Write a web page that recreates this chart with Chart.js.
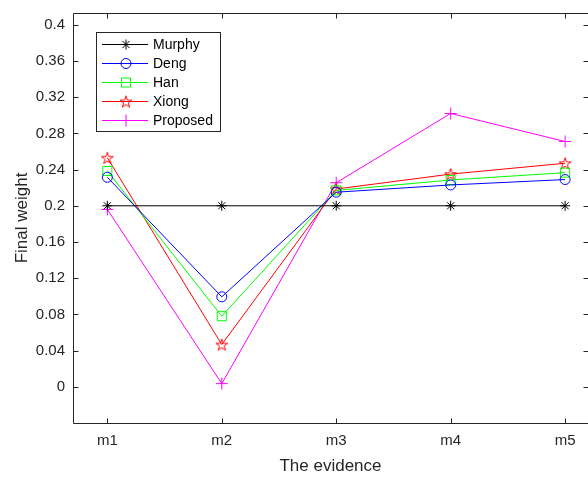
<!DOCTYPE html>
<html>
<head>
<meta charset="utf-8">
<script src="https://cdn.jsdelivr.net/npm/chart.js@4/dist/chart.umd.min.js"></script>
<style>
html,body{margin:0;padding:0;background:#fff;overflow:hidden;}
#wrap{width:588px;height:477px;position:relative;}
</style>
</head>
<body>
<div id="wrap"><canvas id="c" width="588" height="477"></canvas></div>
<script>
const categories = ["m1", "m2", "m3", "m4", "m5"];
const yTicks = [0, 0.04, 0.08, 0.12, 0.16, 0.2, 0.24, 0.28, 0.32, 0.36, 0.4];
const seriesNames = ["Murphy", "Deng", "Han", "Xiong", "Proposed"];
const murphy   = [0.2, 0.2, 0.2, 0.2, 0.2];
const deng     = [0.2315, 0.0994, 0.2150, 0.2230, 0.2290];
const han      = [0.2385, 0.0780, 0.2170, 0.2285, 0.2366];
const xiong    = [0.2530, 0.0467, 0.2185, 0.2350, 0.2470];
const proposed = [0.1960, 0.0035, 0.2255, 0.3020, 0.2710];

const TXT = '#262626';
const FONT = '"Liberation Sans", Arial, Helvetica, sans-serif';

function pentagram(color, size) {
  const c = document.createElement('canvas');
  c.width = size; c.height = size;
  const g = c.getContext('2d');
  const cx = size / 2, cy = size / 2 + 0.7, R = size / 2 - 0.8, r = R * 0.39;
  g.beginPath();
  for (let i = 0; i < 10; i++) {
    const a = -Math.PI / 2 + i * Math.PI / 5;
    const rr = i % 2 === 0 ? R : r;
    const px = cx + rr * Math.cos(a), py = cy + rr * Math.sin(a);
    if (i === 0) g.moveTo(px, py); else g.lineTo(px, py);
  }
  g.closePath();
  g.strokeStyle = color; g.lineWidth = 1; g.stroke();
  return c;
}
const starImg = pentagram('#ff0000', 14);

function pts(arr) { return arr.map((v, i) => ({x: i + 1, y: v})); }

const styles = [
  {color: '#000000', pointStyle: 'star', radius: 5},
  {color: '#0000ff', pointStyle: 'circle', radius: 5},
  {color: '#00ff00', pointStyle: 'rect', radius: 6.4},
  {color: '#ff0000', pointStyle: starImg, radius: 7},
  {color: '#ff00ff', pointStyle: 'cross', radius: 6}
];
const allData = [murphy, deng, han, xiong, proposed];

const datasets = allData.map((d, k) => ({
  label: seriesNames[k],
  data: pts(d),
  borderColor: styles[k].color,
  backgroundColor: 'rgba(0,0,0,0)',
  pointBorderColor: styles[k].color,
  pointBackgroundColor: 'rgba(0,0,0,0)',
  pointStyle: styles[k].pointStyle,
  pointRadius: styles[k].radius,
  pointHoverRadius: styles[k].radius,
  pointBorderWidth: 1,
  borderWidth: 1,
  tension: 0,
  fill: false
}));

const framePlugin = {
  id: 'frame',
  afterDraw(chart) {
    const ctx = chart.ctx, a = chart.chartArea;
    const xs = chart.scales.x, ys = chart.scales.y;
    ctx.save();
    ctx.strokeStyle = TXT;
    ctx.lineWidth = 1;
    ctx.beginPath();
    const L = Math.round(a.left) + 0.5, T = Math.round(a.top) + 0.5, B = Math.round(a.bottom) + 0.5, R = Math.round(a.right) + 0.5;
    ctx.moveTo(L, T); ctx.lineTo(R, T);
    ctx.moveTo(L, T); ctx.lineTo(L, B);
    ctx.moveTo(L, B); ctx.lineTo(R, B);
    ctx.moveTo(R, T); ctx.lineTo(R, B);
    const tl = 5;
    categories.forEach((c, i) => {
      const px = Math.round(xs.getPixelForValue(i + 1)) + 0.5;
      ctx.moveTo(px, B); ctx.lineTo(px, B - tl);
      ctx.moveTo(px, T); ctx.lineTo(px, T + tl);
    });
    yTicks.forEach(v => {
      const py = Math.round(ys.getPixelForValue(v)) + 0.5;
      ctx.moveTo(L, py); ctx.lineTo(L + tl, py);
      ctx.moveTo(R, py); ctx.lineTo(R - tl, py);
    });
    ctx.stroke();

    // legend
    const bx = 96.5, by = 32.5, bw = 124, bh = 99;
    ctx.fillStyle = '#ffffff';
    ctx.fillRect(bx, by, bw, bh);
    ctx.strokeStyle = TXT;
    ctx.strokeRect(bx, by, bw, bh);
    ctx.font = '14px ' + FONT;
    ctx.textBaseline = 'middle';
    ctx.textAlign = 'left';
    chart.data.datasets.forEach((ds, k) => {
      const yy = 44.5 + k * 19;
      ctx.save();
      ctx.strokeStyle = ds.borderColor;
      ctx.lineWidth = 1;
      ctx.beginPath();
      ctx.moveTo(102, yy); ctx.lineTo(148, yy);
      ctx.stroke();
      ctx.strokeStyle = ds.borderColor;
      ctx.fillStyle = 'rgba(0,0,0,0)';
      Chart.helpers.drawPoint(ctx, {pointStyle: ds.pointStyle, rotation: 0, borderWidth: 1, radius: ds.pointRadius}, 126, yy);
      ctx.restore();
      ctx.fillStyle = '#000';
      ctx.fillText(ds.label, 153, yy + 1);
    });
    ctx.restore();
  }
};

new Chart(document.getElementById('c'), {
  type: 'line',
  data: {datasets},
  options: {
    responsive: false,
    animation: false,
    events: [],
    layout: {autoPadding: false, padding: {top: 13, right: 0, left: 0, bottom: 0}},
    plugins: {legend: {display: false}, tooltip: {enabled: false}},
    scales: {
      x: {
        type: 'linear', min: 0.7, max: 5.2,
        afterBuildTicks(s) { s.ticks = categories.map((c, i) => ({value: i + 1})); },
        afterFit(s) { s.height = 54; s.paddingLeft = 0; s.paddingRight = 0; },
        grid: {display: false, drawTicks: false},
        border: {display: false},
        ticks: {
          callback: (v) => categories[Math.round(v) - 1] || '',
          color: TXT, font: {family: FONT, size: 15}, padding: 9, maxRotation: 0, autoSkip: false
        },
        title: {display: true, text: 'The evidence', color: TXT, font: {family: FONT, size: 17}, padding: {top: 1, bottom: 0}}
      },
      y: {
        type: 'linear', min: -0.04, max: 0.413,
        afterBuildTicks(s) { s.ticks = yTicks.map(v => ({value: v})); },
        afterFit(s) { s.width = 73; s.paddingTop = 0; s.paddingBottom = 0; },
        grid: {display: false, drawTicks: false},
        border: {display: false},
        ticks: {
          callback: (v) => String(parseFloat(v.toFixed(2))),
          color: TXT, font: {family: FONT, size: 15}, padding: 8, autoSkip: false
        },
        title: {display: true, text: 'Final weight', color: TXT, font: {family: FONT, size: 17}, padding: {top: 12, bottom: 0}}
      }
    }
  },
  plugins: [framePlugin]
});
</script>
</body>
</html>
